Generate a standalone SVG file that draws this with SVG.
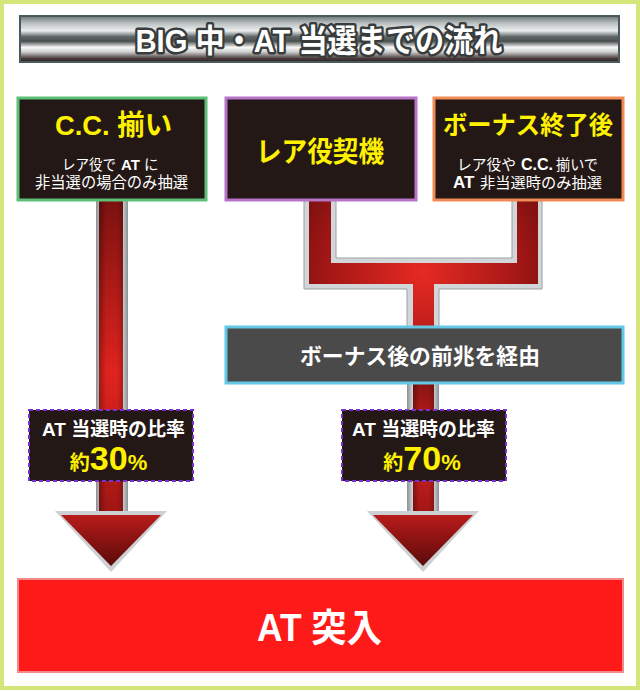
<svg xmlns="http://www.w3.org/2000/svg" width="640" height="691" viewBox="0 0 640 691">
<defs>
<style>
.jp{font-family:"Liberation Sans","Noto Sans CJK JP",sans-serif;}
.b{font-weight:bold;}
.ttl{fill:#fff;stroke:#383c3c;stroke-width:5;stroke-linejoin:round;paint-order:stroke;font-weight:bold;}
.yel{fill:#fff200;font-weight:bold;}
.wht{fill:#fff;}
.box{fill:#231815;stroke-width:3;}
.lab{fill:#231815;stroke:#7a2fd0;stroke-width:2;stroke-dasharray:4 3;}
.grey{fill:url(#gEdge);}
</style>
<linearGradient id="gTitle" x1="0" y1="0" x2="0" y2="1">
<stop offset="0" stop-color="#6a7272"/>
<stop offset="0.15" stop-color="#b8bebe"/>
<stop offset="0.32" stop-color="#eceeee"/>
<stop offset="0.45" stop-color="#5e6666"/>
<stop offset="0.55" stop-color="#4a5050"/>
<stop offset="0.68" stop-color="#f8f8f8"/>
<stop offset="0.78" stop-color="#cfd0d0"/>
<stop offset="0.92" stop-color="#4a3c3c"/>
<stop offset="1" stop-color="#2a2020"/>
</linearGradient>
<linearGradient id="gEdge" x1="0" y1="0" x2="1" y2="0">
<stop offset="0" stop-color="#8a9094"/>
<stop offset="0.2" stop-color="#d8dcde"/>
<stop offset="0.8" stop-color="#d8dcde"/>
<stop offset="1" stop-color="#8a9094"/>
</linearGradient>
<linearGradient id="gLeft" gradientUnits="userSpaceOnUse" x1="0" y1="200" x2="0" y2="515">
<stop offset="0" stop-color="#7a1210"/>
<stop offset="0.55" stop-color="#e0231e"/>
<stop offset="1" stop-color="#a01614"/>
</linearGradient>
<linearGradient id="gRight" gradientUnits="userSpaceOnUse" x1="0" y1="383" x2="0" y2="515">
<stop offset="0" stop-color="#8a1412"/>
<stop offset="0.5" stop-color="#d42220"/>
<stop offset="1" stop-color="#a01614"/>
</linearGradient>
<radialGradient id="gFork" gradientUnits="userSpaceOnUse" cx="423" cy="272" r="150">
<stop offset="0" stop-color="#e62a22"/>
<stop offset="0.6" stop-color="#a81816"/>
<stop offset="1" stop-color="#6e0e0e"/>
</radialGradient>
<linearGradient id="gHead" x1="0" y1="0" x2="0" y2="1">
<stop offset="0" stop-color="#b81c1a"/>
<stop offset="1" stop-color="#5a0a0a"/>
</linearGradient>
<linearGradient id="gShade" x1="0" y1="0" x2="1" y2="0">
<stop offset="0" stop-color="#000" stop-opacity="0.3"/>
<stop offset="0.3" stop-color="#000" stop-opacity="0"/>
<stop offset="0.75" stop-color="#000" stop-opacity="0"/>
<stop offset="1" stop-color="#000" stop-opacity="0.2"/>
</linearGradient>
</defs>

<rect x="0" y="0" width="640" height="691" fill="#fff"/>
<rect x="2" y="2" width="636" height="686" fill="none" stroke="#d4e67a" stroke-width="4"/>

<g id="title">
<rect x="20" y="16" width="599" height="46" fill="url(#gTitle)" stroke="#4a5a5c" stroke-width="2"/>
<text class="jp ttl" x="319" y="52" font-size="32" text-anchor="middle" textLength="367" lengthAdjust="spacingAndGlyphs">BIG 中・AT 当選までの流れ</text>
</g>

<g id="connectors">
<rect x="96" y="200" width="32" height="315" class="grey"/>
<rect x="99" y="200" width="24" height="318" fill="url(#gLeft)"/>
<rect x="99" y="200" width="24" height="318" fill="url(#gShade)"/>
<polygon points="55,511 167,511 111,572" fill="#cdd1d4"/>
<polygon points="61,515 161,515 111,566" fill="url(#gHead)"/>
<path d="M304,200 H336 V258 H512 V200 H542 V289 H439 V327 H407 V289 H304 Z" fill="#d2d6d8" stroke="#9aa0a4" stroke-width="1"/>
<path d="M309,200 H331 V263 H517 V200 H538 V284 H434 V327 H413 V284 H309 Z" fill="url(#gFork)"/>
<rect x="407" y="383" width="32" height="132" class="grey"/>
<rect x="413" y="383" width="21" height="135" fill="url(#gRight)"/>
<rect x="413" y="383" width="21" height="135" fill="url(#gShade)"/>
<polygon points="367,511 479,511 423,572" fill="#cdd1d4"/>
<polygon points="373,515 473,515 423,566" fill="url(#gHead)"/>
</g>

<g id="node-cc">
<rect x="18" y="98" width="188" height="102" class="box" stroke="#5cc078"/>
<text class="jp yel" x="113.5" y="135" font-size="28" text-anchor="middle" textLength="117" lengthAdjust="spacingAndGlyphs">C.C. 揃い</text>
<text class="jp wht" x="62" y="170" font-size="14.5" textLength="54" lengthAdjust="spacingAndGlyphs">レア役で</text>
<text class="jp wht b" x="121" y="170" font-size="15">AT</text>
<text class="jp wht" x="144" y="170" font-size="14.5">に</text>
<text class="jp wht" x="111.5" y="188" font-size="15.5" text-anchor="middle" textLength="153" lengthAdjust="spacingAndGlyphs">非当選の場合のみ抽選</text>
</g>

<g id="node-rare">
<rect x="226" y="98" width="190" height="102" class="box" stroke="#b673c8"/>
<text class="jp yel" x="320" y="162" font-size="28" text-anchor="middle" textLength="128" lengthAdjust="spacingAndGlyphs">レア役契機</text>
</g>

<g id="node-bonus">
<rect x="434" y="98" width="189" height="102" class="box" stroke="#f28a56"/>
<text class="jp yel" x="528" y="134" font-size="25" text-anchor="middle" textLength="170" lengthAdjust="spacingAndGlyphs">ボーナス終了後</text>
<text class="jp wht" x="457" y="170" font-size="15" textLength="59" lengthAdjust="spacingAndGlyphs">レア役や</text>
<text class="jp wht b" x="521" y="170" font-size="16">C.C.</text>
<text class="jp wht" x="556" y="170" font-size="15" textLength="42" lengthAdjust="spacingAndGlyphs">揃いで</text>
<text class="jp wht b" x="453" y="188" font-size="17">AT</text>
<text class="jp wht" x="480" y="188" font-size="15" textLength="122" lengthAdjust="spacingAndGlyphs">非当選時のみ抽選</text>
</g>

<g id="node-zencho">
<rect x="226" y="327" width="397" height="56" fill="#4a4a4a" stroke="#62c8e6" stroke-width="3"/>
<text class="jp wht b" x="420" y="364" font-size="22" text-anchor="middle" textLength="240" lengthAdjust="spacingAndGlyphs">ボーナス後の前兆を経由</text>
</g>

<g id="label-30">
<rect x="29" y="410" width="164" height="71" class="lab"/>
<text class="jp wht b" x="113.5" y="436" font-size="19" text-anchor="middle" textLength="143" lengthAdjust="spacingAndGlyphs">AT 当選時の比率</text>
<text class="jp yel" x="108.5" y="470" text-anchor="middle"><tspan font-size="20">約</tspan><tspan font-size="34">30</tspan><tspan font-size="22">%</tspan></text>
</g>

<g id="label-70">
<rect x="342" y="410" width="164" height="71" class="lab"/>
<text class="jp wht b" x="423.5" y="436" font-size="19" text-anchor="middle" textLength="143" lengthAdjust="spacingAndGlyphs">AT 当選時の比率</text>
<text class="jp yel" x="422" y="470" text-anchor="middle"><tspan font-size="20">約</tspan><tspan font-size="34">70</tspan><tspan font-size="22">%</tspan></text>
</g>

<g id="node-at">
<rect x="18" y="579" width="605" height="93" fill="#ff1a1a" stroke="#f08a8a" stroke-width="2"/>
<text class="jp wht b" x="319.5" y="641" font-size="38" text-anchor="middle" textLength="125" lengthAdjust="spacingAndGlyphs">AT 突入</text>
</g>
</svg>
